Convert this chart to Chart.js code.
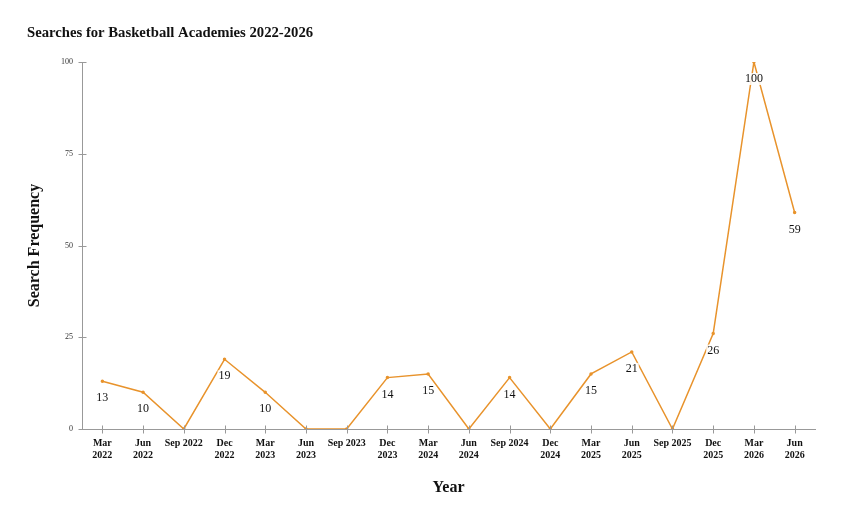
<!DOCTYPE html>
<html>
<head>
<meta charset="utf-8">
<script src="https://cdn.jsdelivr.net/npm/chart.js@4"></script>
<style>
html,body{margin:0;padding:0;background:#fff;}
#wrap{width:842px;height:521px;position:relative;}
</style>
</head>
<body>
<div id="wrap"><canvas id="c" width="842" height="521"></canvas></div>
<script>
const categories = [
  ["Mar","2022"], ["Jun","2022"], "Sep 2022", ["Dec","2022"], ["Mar","2023"], ["Jun","2023"],
  "Sep 2023", ["Dec","2023"], ["Mar","2024"], ["Jun","2024"], "Sep 2024", ["Dec","2024"],
  ["Mar","2025"], ["Jun","2025"], "Sep 2025", ["Dec","2025"], ["Mar","2026"], ["Jun","2026"]
];
const searchValues = [13, 10, 0, 19, 10, 0, 0, 14, 15, 0, 14, 0, 15, 21, 0, 26, 100, 59];
const yTicks = [0, 25, 50, 75, 100];
const chartTitle = "Searches for Basketball Academies 2022-2026";

const SERIF = "'Liberation Serif', 'Times New Roman', serif";
const LINE = '#e8932c';
const AXIS = '#999999';

const decor = {
  id: 'decor',
  afterDraw(chart) {
    const ctx = chart.ctx;
    const xs = chart.scales.x, ys = chart.scales.y;
    ctx.save();
    // title
    ctx.fillStyle = '#111';
    ctx.font = 'bold 14.7px ' + SERIF;
    ctx.textAlign = 'left';
    ctx.textBaseline = 'middle';
    ctx.fillText(chartTitle, 27, 33);
    // ticks crossing axes
    ctx.strokeStyle = AXIS;
    ctx.lineWidth = 1;
    const ax = Math.round(xs.left) + 0.5;
    yTicks.forEach(v => {
      const y = Math.round(ys.getPixelForValue(v)) + 0.5;
      ctx.beginPath(); ctx.moveTo(ax - 4, y); ctx.lineTo(ax + 4, y); ctx.stroke();
    });
    const ay = Math.round(ys.bottom) + 0.5;
    categories.forEach((c, i) => {
      const x = Math.round(xs.getPixelForValue(i)) + 0.5;
      ctx.beginPath(); ctx.moveTo(x, ay - 4); ctx.lineTo(x, ay + 4); ctx.stroke();
    });
    // data labels
    const meta = chart.getDatasetMeta(0);
    ctx.font = '12px ' + SERIF;
    ctx.textAlign = 'center';
    ctx.textBaseline = 'middle';
    meta.data.forEach((pt, i) => {
      const txt = String(searchValues[i]);
      if (searchValues[i] === 0) return;
      const w = ctx.measureText(txt).width;
      const ly = pt.y + 17;
      ctx.fillStyle = 'rgba(255,255,255,0.85)';
      ctx.fillRect(pt.x - w / 2 - 1, ly - 6, w + 2, 12);
      ctx.fillStyle = '#111';
      ctx.fillText(txt, pt.x, ly);
    });
    ctx.restore();
  }
};

new Chart(document.getElementById('c'), {
  type: 'line',
  data: {
    labels: categories,
    datasets: [{
      data: searchValues,
      borderColor: LINE,
      backgroundColor: LINE,
      borderWidth: 1.5,
      pointRadius: 1,
      pointHoverRadius: 1,
      tension: 0,
      fill: false
    }]
  },
  options: {
    responsive: false,
    animation: false,
    devicePixelRatio: 1,
    layout: { padding: { top: 62, right: 27, bottom: 0, left: 0 } },
    plugins: { legend: { display: false }, tooltip: { enabled: false }, title: { display: false } },
    scales: {
      x: {
        type: 'category',
        offset: true,
        grid: { display: true, drawOnChartArea: false, color: 'transparent', tickLength: 0, offset: false },
        border: { display: true, color: AXIS, width: 1 },
        ticks: {
          autoSkip: false, maxRotation: 0, minRotation: 0, padding: 8,
          color: '#111', font: { family: SERIF, size: 10, weight: 'bold', lineHeight: 1.2 }
        },
        title: {
          display: true, text: 'Year', color: '#111',
          font: { family: SERIF, size: 16, weight: 'bold' },
          padding: { top: 0, bottom: 24 }
        },
        afterFit(s) { s.height = 92; }
      },
      y: {
        min: 0, max: 100,
        afterBuildTicks(s) { s.ticks = yTicks.map(v => ({ value: v })); },
        grid: { display: true, drawOnChartArea: false, color: 'transparent', tickLength: 0 },
        border: { display: true, color: AXIS, width: 1 },
        ticks: { padding: 9, color: '#333', font: { family: SERIF, size: 8 } },
        title: {
          display: true, text: 'Search Frequency', color: '#111',
          font: { family: SERIF, size: 16, weight: 'bold' },
          padding: { top: 25, bottom: 0 }
        },
        afterFit(s) { s.width = 82; }
      }
    }
  },
  plugins: [decor]
});
</script>
</body>
</html>
